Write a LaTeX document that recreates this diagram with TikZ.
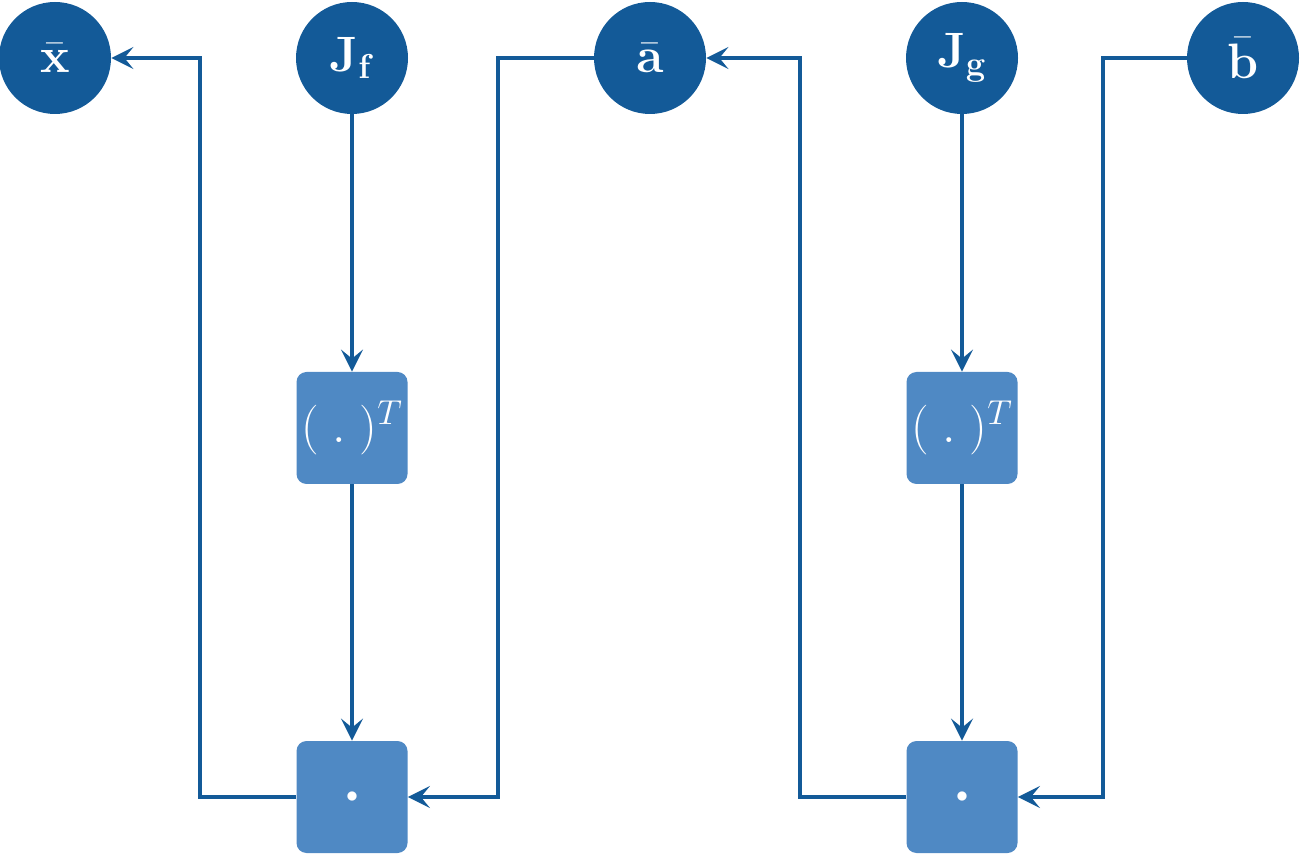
\documentclass[tikz,border=0pt]{standalone}
\usetikzlibrary{arrows.meta}
\definecolor{dkblue}{HTML}{135A98}
\definecolor{ltblue}{HTML}{4F89C4}
\begin{document}
\begin{tikzpicture}[x=0.5pt,y=-0.5pt,
  varnode/.style={circle,fill=dkblue,minimum size=56pt,inner sep=0pt,text=white,font=\fontsize{24}{28}\selectfont},
  opbox/.style={rectangle,rounded corners=5pt,fill=ltblue,minimum width=55.5pt,minimum height=56pt,inner sep=0pt,text=white,font=\fontsize{25}{30}\selectfont},
  dotfont/.style={font=\fontsize{13}{13}\selectfont},
  conn/.style={draw=dkblue,line width=2.2pt,-{Stealth[length=11pt,width=11pt,inset=4.5pt]}}]
\useasboundingbox (0,0) rectangle (1300,854);
\node[varnode] (x) at (55,58) {$\bar{\mathbf{x}}$};
\node[varnode] (Jf) at (352,58) {$\mathbf{J}_{\mathbf{f}}$};
\node[varnode] (a) at (650,58) {$\bar{\mathbf{a}}$};
\node[varnode] (Jg) at (962,58) {$\mathbf{J}_{\mathbf{g}}$};
\node[varnode] (b) at (1243,58) {$\bar{\mathbf{b}}$};
\node[opbox] (Tf) at (352,428) {$(\;.\;)^T$};
\node[opbox,dotfont] (Pf) at (352,797) {$\bullet$};
\node[opbox] (Tg) at (962,428) {$(\;.\;)^T$};
\node[opbox,dotfont] (Pg) at (962,797) {$\bullet$};
\draw[conn] (Jf) -- (Tf);
\draw[conn] (Tf) -- (Pf);
\draw[conn] (Jg) -- (Tg);
\draw[conn] (Tg) -- (Pg);
\draw[conn] (Pf.west) -| (200,58) -- (x.east);
\draw[conn] (a.west) -| (498,797) -- (Pf.east);
\draw[conn] (Pg.west) -| (800,58) -- (a.east);
\draw[conn] (b.west) -| (1103,797) -- (Pg.east);
\end{tikzpicture}
\end{document}
